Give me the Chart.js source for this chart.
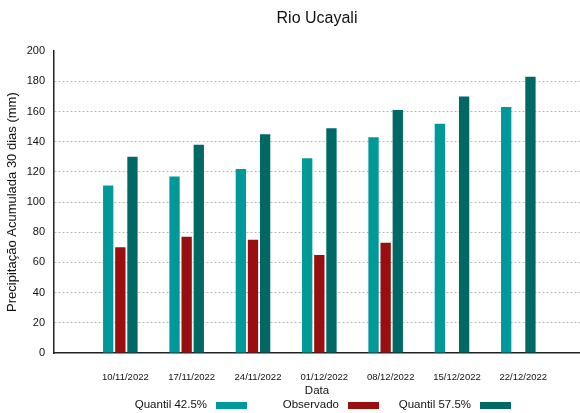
<!DOCTYPE html>
<html>
<head>
<meta charset="utf-8">
<script src="https://cdn.jsdelivr.net/npm/chart.js@4"></script>
<style>
  html, body { margin: 0; padding: 0; background: #fff; }
  #wrap { width: 580px; height: 413px; }
</style>
</head>
<body>
<div id="wrap"><canvas id="chart" width="580" height="413"></canvas></div>
<script>
// Weekly dates (x categories)
const dates = ['10/11/2022', '17/11/2022', '24/11/2022', '01/12/2022', '08/12/2022', '15/12/2022', '22/12/2022'];

// Series values (mm)
const quantil425 = [111, 117, 122, 129, 143, 152, 163];
const observado = [70, 77, 75, 65, 73, null, null];
const quantil575 = [130, 138, 145, 149, 161, 170, 183];

const yTicks = [0, 20, 40, 60, 80, 100, 120, 140, 160, 180, 200];

const FONT = "'Liberation Sans', Arial, sans-serif";

// pair each value with its category index for the linear x scale
const toPoints = arr => arr.map((v, i) => ({ x: i, y: v }));

// Legend: label text right-aligned in front of its colour box
const textBeforeBoxLegend = {
  id: 'textBeforeBoxLegend',
  afterDraw(chart) {
    const { ctx, chartArea } = chart;
    const y = 405;
    ctx.save();
    ctx.font = `11.5px ${FONT}`;
    ctx.textAlign = 'right';
    ctx.textBaseline = 'middle';
    chart.data.datasets.forEach((ds, i) => {
      const boxX = chartArea.left + 162 + 132 * i;
      ctx.fillStyle = '#111';
      ctx.fillText(ds.label, boxX - 9, y);
      ctx.fillStyle = ds.backgroundColor;
      ctx.fillRect(boxX, y - 3, 31, 7);
    });
    ctx.restore();
  },
};

const ctx = document.getElementById('chart').getContext('2d');
new Chart(ctx, {
  type: 'bar',
  data: {
    datasets: [
      { label: 'Quantil 42.5%', data: toPoints(quantil425), backgroundColor: '#009999' },
      { label: 'Observado', data: toPoints(observado), backgroundColor: '#990f0f' },
      { label: 'Quantil 57.5%', data: toPoints(quantil575), backgroundColor: '#006966' },
    ],
  },
  options: {
    responsive: false,
    animation: false,
    categoryPercentage: 0.59,
    barPercentage: 0.85,
    layout: { padding: { left: 0, right: 0, top: 0, bottom: 15 } },
    plugins: {
      title: {
        display: true,
        text: 'Rio Ucayali',
        fullSize: false,
        color: '#111',
        font: { family: FONT, size: 16, weight: 'normal' },
        padding: { top: 9, bottom: 23 },
      },
      legend: { display: false },
      tooltip: { enabled: false },
    },
    scales: {
      x: {
        type: 'linear',
        offset: false,
        min: -1,
        max: 6.93,
        afterFit: s => {
          s.height = 45;
          s.paddingLeft = 0;
          s.paddingRight = 0;
        },
        ticks: {
          stepSize: 1,
          autoSkip: false,
          maxRotation: 0,
          labelOffset: 5,
          padding: 11,
          color: '#111',
          font: { family: FONT, size: 9.5 },
          callback: v => (Number.isInteger(v) && dates[v]) ? dates[v] : '',
        },
        grid: { display: false },
        border: { color: '#222', width: 1.5 },
        title: {
          display: true,
          text: 'Data',
          color: '#111',
          font: { family: FONT, size: 11.5 },
          padding: { top: 0, bottom: 0 },
        },
      },
      y: {
        min: 0,
        max: 200,
        afterFit: s => { s.width = 54; },
        afterBuildTicks: s => { s.ticks = yTicks.map(v => ({ value: v })); },
        ticks: {
          padding: 9,
          color: '#111',
          font: { family: FONT, size: 11 },
        },
        grid: {
          color: c => (c.tick && c.tick.value > 0 && c.tick.value < 200) ? '#b8b8b8' : 'rgba(0,0,0,0)',
          lineWidth: 1,
          drawTicks: false,
        },
        border: { color: '#222', width: 1.5, dash: [2, 2] },
        title: {
          display: true,
          text: 'Precipitação Acumulada 30 dias (mm)',
          color: '#111',
          font: { family: FONT, size: 13 },
          padding: { top: 5, bottom: 0 },
        },
      },
    },
  },
  plugins: [textBeforeBoxLegend],
});
</script>
</body>
</html>
